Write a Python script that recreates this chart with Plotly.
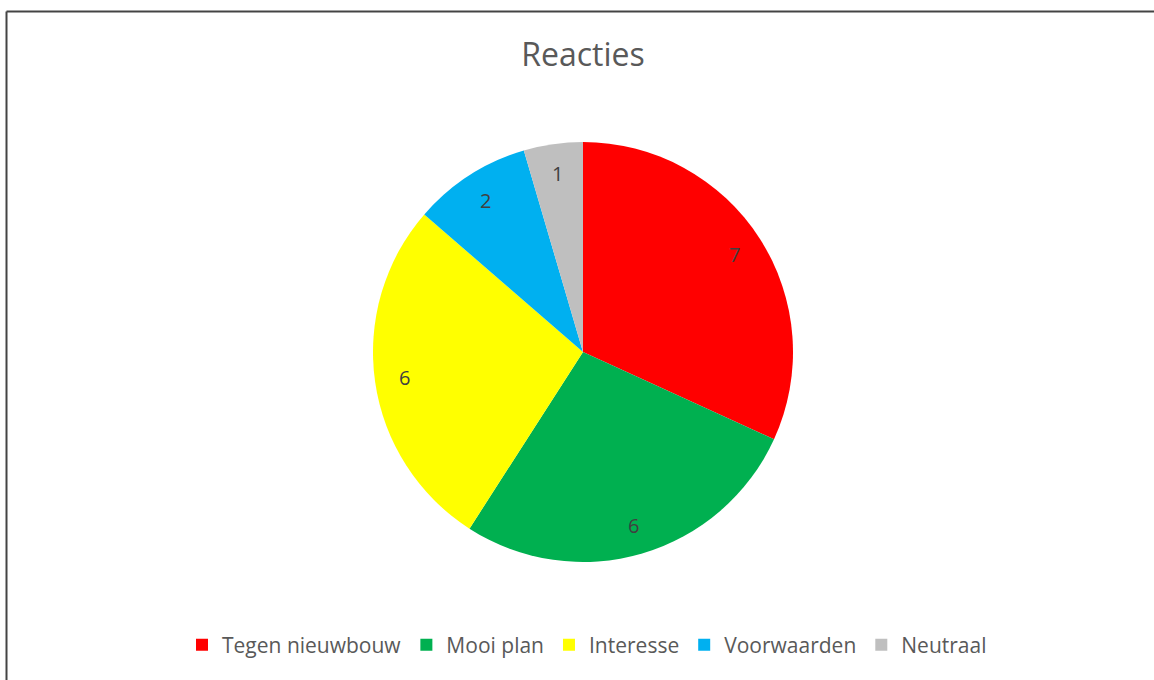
import math
import plotly.graph_objects as go

W, H = 1154, 680

categories = ["Tegen nieuwbouw", "Mooi plan", "Interesse", "Voorwaarden", "Neutraal"]
values = [7, 6, 6, 2, 1]
colors = ["#FF0000", "#00B050", "#FFFF00", "#00B0F0", "#BFBFBF"]
title_text = "Reacties"

cx_px, cy_px, r_px = 583, 352, 210

fig = go.Figure(go.Pie(
    labels=categories,
    values=values,
    marker=dict(colors=colors, line=dict(width=0)),
    sort=False,
    direction="clockwise",
    rotation=0,
    textinfo="none",
    hoverinfo="label+value",
    domain=dict(x=[(cx_px - r_px) / W, (cx_px + r_px) / W],
                y=[1 - (cy_px + r_px) / H, 1 - (cy_px - r_px) / H]),
))

# data labels positioned at slice mid-angles (derived from values)
total = sum(values)
cum = 0
annotations = []
for v in values:
    mid = (cum + v / 2) / total * 2 * math.pi
    cum += v
    rr = 0.86 * r_px
    x = cx_px + rr * math.sin(mid)
    y = cy_px - rr * math.cos(mid)
    annotations.append(dict(x=x / W, y=1 - y / H, xref="paper", yref="paper",
                            xanchor="center", yanchor="middle",
                            text=str(v), showarrow=False,
                            font=dict(family="Open Sans", size=20, color="#404040")))

fig.update_layout(
    width=W, height=H,
    margin=dict(l=0, r=0, t=0, b=0),
    paper_bgcolor="white",
    plot_bgcolor="white",
    title=dict(text=title_text, x=583 / W, xanchor="center", y=1 - 55 / H, yanchor="middle",
               font=dict(family="Open Sans", size=32, color="#595959")),
    showlegend=True,
    legend=dict(orientation="h", x=587 / W, xanchor="center", y=1 - 645 / H, yanchor="middle",
                font=dict(family="Open Sans", size=21, color="#595959"),
                itemwidth=30, tracegroupgap=0),
    annotations=annotations,
    shapes=[
        dict(type="line", xref="paper", yref="paper", x0=6.5 / W, x1=6.5 / W, y0=1 - 11.5 / H, y1=0,
             line=dict(color="#444444", width=2)),
        dict(type="line", xref="paper", yref="paper", x0=6.5 / W, x1=1, y0=1 - 11.5 / H, y1=1 - 11.5 / H,
             line=dict(color="#444444", width=2)),
    ],
)

fig.write_html("out.html", config={"displayModeBar": False},
               post_script="document.body.style.margin='0';document.body.style.overflow='hidden';")
